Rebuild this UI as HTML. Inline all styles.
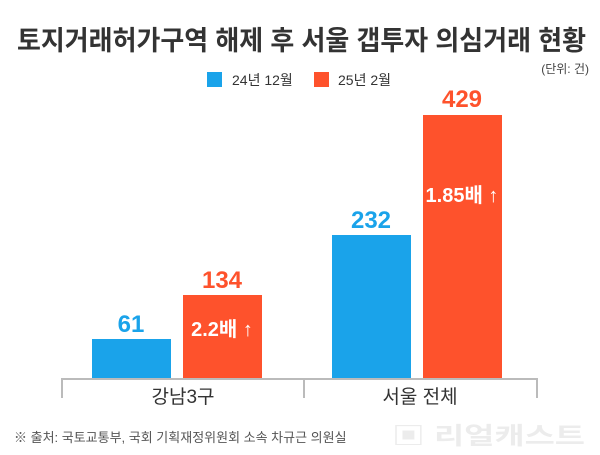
<!DOCTYPE html>
<html><head><meta charset="utf-8"><style>
html,body{margin:0;padding:0;background:#fff;}
svg{display:block;}
text{font-family:"Liberation Sans","Noto Sans CJK KR",sans-serif;}
</style></head><body>
<svg width="600" height="455" viewBox="0 0 600 455" xmlns="http://www.w3.org/2000/svg">
<rect width="600" height="455" fill="#fff"/>
<text x="17" y="50" font-size="27" font-weight="bold" fill="#333" textLength="569" lengthAdjust="spacingAndGlyphs">토지거래허가구역 해제 후 서울 갭투자 의심거래 현황</text>
<text x="589" y="73" font-size="12" fill="#444" text-anchor="end">(단위: 건)</text>
<rect x="207" y="72" width="15" height="15" fill="#1aa3ea"/>
<text x="232" y="85" font-size="14" fill="#333">24년 12월</text>
<rect x="314" y="72" width="15" height="15" fill="#fe522c"/>
<text x="338" y="85" font-size="14" fill="#333">25년 2월</text>
<rect x="92" y="339" width="79" height="40" fill="#1aa3ea"/>
<rect x="183" y="295" width="79" height="84" fill="#fe522c"/>
<rect x="332" y="235" width="79" height="144" fill="#1aa3ea"/>
<rect x="423" y="115" width="79" height="264" fill="#fe522c"/>
<text x="131" y="332" font-size="24" font-weight="bold" fill="#1aa3ea" text-anchor="middle">61</text>
<text x="222" y="288" font-size="24" font-weight="bold" fill="#fe522c" text-anchor="middle">134</text>
<text x="371" y="228" font-size="24" font-weight="bold" fill="#1aa3ea" text-anchor="middle">232</text>
<text x="462" y="107" font-size="24" font-weight="bold" fill="#fe522c" text-anchor="middle">429</text>
<text x="222" y="336" font-size="20" font-weight="bold" fill="#fff" text-anchor="middle">2.2배 ↑</text>
<text x="462" y="202" font-size="20" font-weight="bold" fill="#fff" text-anchor="middle">1.85배 ↑</text>
<path d="M62 398 V379 H537 V398 M304 379 V398" stroke="#bbb" stroke-width="2" fill="none"/>
<text x="183" y="403" font-size="19" fill="#333" text-anchor="middle">강남3구</text>
<text x="420" y="403" font-size="19" fill="#333" text-anchor="middle">서울 전체</text>
<text x="14" y="442" font-size="13" fill="#555">※ 출처: 국토교통부, 국회 기획재정위원회 소속 차규근 의원실</text>
<text x="392" y="444" font-size="24" font-weight="bold" fill="#ececec" textLength="193" lengthAdjust="spacingAndGlyphs">▣ 리얼캐스트</text>
</svg>
</body></html>
